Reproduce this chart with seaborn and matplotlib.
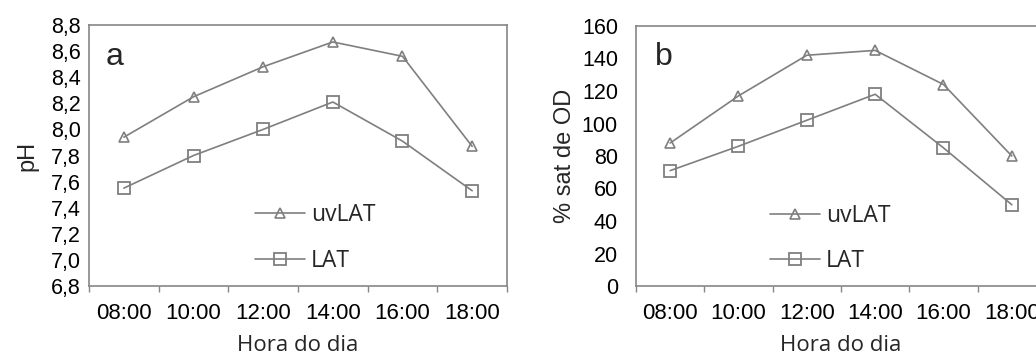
import numpy as np
import pandas as pd
import matplotlib
matplotlib.use("Agg")
import matplotlib.pyplot as plt
import seaborn as sns

# ---- data ----
hours = ["08:00", "10:00", "12:00", "14:00", "16:00", "18:00"]
series_names = ["uvLAT", "LAT"]
ph_uvlat = [7.94, 8.25, 8.48, 8.67, 8.56, 7.87]
ph_lat = [7.55, 7.80, 8.00, 8.21, 7.91, 7.53]
od_uvlat = [88, 117, 142, 145, 124, 80]
od_lat = [71, 86, 102, 118, 85, 50]
ph_ticks = [6.8, 7.0, 7.2, 7.4, 7.6, 7.8, 8.0, 8.2, 8.4, 8.6, 8.8]
ph_ticklabels = ["6,8", "7,0", "7,2", "7,4", "7,6", "7,8", "8,0", "8,2", "8,4", "8,6", "8,8"]
od_ticks = [0, 20, 40, 60, 80, 100, 120, 140, 160]
od_ticklabels = ["0", "20", "40", "60", "80", "100", "120", "140", "160"]

sns.set_style("white")
plt.rcParams["font.family"] = ["Liberation Sans", "DejaVu Sans"]

GRAY = "#7f7f7f"
FRAME = "#868686"
W, H = 1036, 356
fig = plt.figure(figsize=(W / 100, H / 100), dpi=100)
ax1 = fig.add_axes([89 / W, 70 / H, 418 / W, 261 / H])
ax2 = fig.add_axes([636 / W, 70 / H, 410 / W, 260 / H])

pos = np.arange(len(hours))

def draw(ax, up, low, ticks, ticklabels, ylabel, letter, ypad, ylabpad, leg_x):
    df = pd.DataFrame({"pos": np.concatenate([pos, pos]),
                       "valor": list(up) + list(low),
                       "serie": [series_names[0]] * len(pos) + [series_names[1]] * len(pos)})
    d0 = df[df.serie == series_names[0]]
    d1 = df[df.serie == series_names[1]]
    sns.lineplot(data=d0, x="pos", y="valor", ax=ax, color=GRAY, marker="^",
                 markersize=7, markerfacecolor="none", markeredgecolor=GRAY,
                 markeredgewidth=1.2, linewidth=1.2, label=series_names[0])
    sns.lineplot(data=d1, x="pos", y="valor", ax=ax, color=GRAY, marker="s",
                 markersize=9, markerfacecolor="none", markeredgecolor=GRAY,
                 markeredgewidth=1.3, linewidth=1.2, label=series_names[1])
    ax.set_xlim(-0.5, len(hours) - 0.5)
    ax.set_ylim(ticks[0], ticks[-1])
    ax.set_xticks(pos)
    ax.set_xticklabels(hours)
    ax.set_xticks(np.arange(len(hours) + 1) - 0.5, minor=True)
    ax.set_yticks(ticks)
    ax.set_yticklabels(ticklabels)
    ax.tick_params(axis="x", which="major", length=0, pad=12.5, labelsize=16, colors="black")
    ax.tick_params(axis="x", which="minor", length=4.5, width=1.0, color=FRAME, direction="out", bottom=True)
    ax.tick_params(axis="y", which="major", length=0, pad=ypad, labelsize=15.5, colors="black")
    for s in ax.spines.values():
        s.set_visible(True)
        s.set_color(FRAME)
        s.set_linewidth(1.2)
    ax.grid(False)
    ax.set_xlabel("Hora do dia", family="Open Sans", fontsize=16, labelpad=8)
    ax.set_ylabel(ylabel, fontsize=17, labelpad=ylabpad)
    ax.text(letter[1], letter[2], letter[0], transform=ax.transAxes, fontsize=23,
            ha="left", va="baseline")
    ax.legend(loc="center left", bbox_to_anchor=(leg_x, 0.183), frameon=False,
              prop={"family": "Open Sans", "size": 16.5}, handlelength=2.2,
              handletextpad=0.25, labelspacing=0.95, borderpad=0, borderaxespad=0,
              numpoints=1)

draw(ax1, ph_uvlat, ph_lat, ph_ticks, ph_ticklabels, "pH", ("a", 0.039, 0.847), 6.0, 9, 0.397)
draw(ax2, od_uvlat, od_lat, od_ticks, od_ticklabels, "% sat de OD", ("b", 0.046, 0.85), 13.0, 4, 0.327)

fig.savefig("out.png", dpi=100)
